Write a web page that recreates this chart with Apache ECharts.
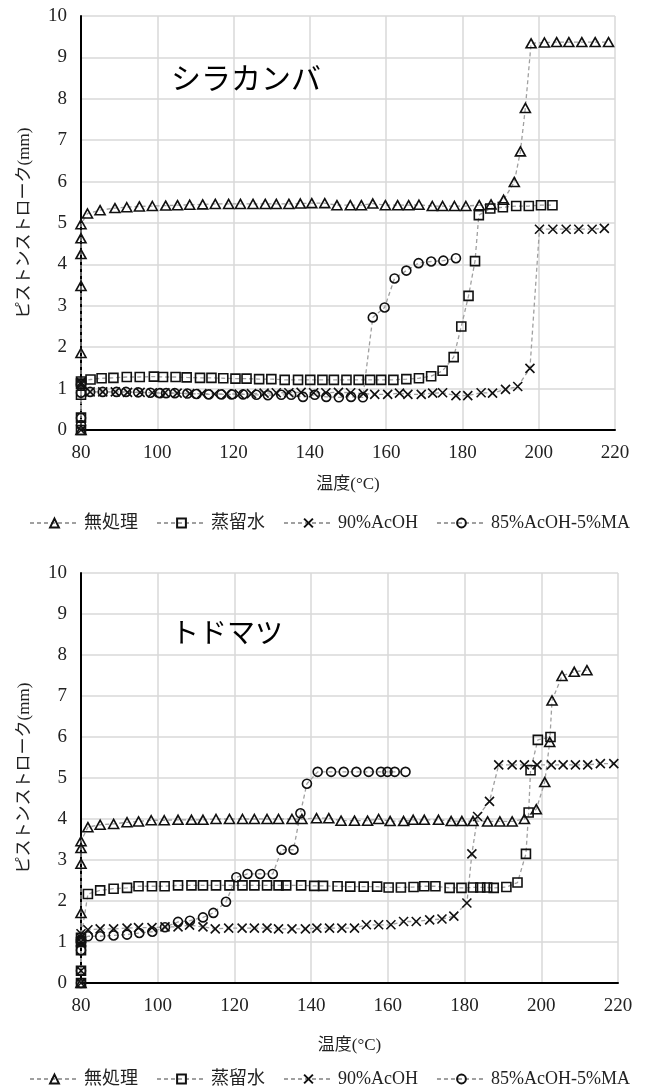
<!DOCTYPE html>
<html>
<head>
<meta charset="utf-8">
<script src="https://cdn.jsdelivr.net/npm/echarts@6/dist/echarts.min.js"></script>
<style>
  body { margin: 0; background: #fff; }
  #chart { width: 663px; height: 1086px; }
</style>
</head>
<body>
<div id="chart"></div>
<script type="text/javascript">
    var names = ['無処理', '蒸留水', '90%AcOH', '85%AcOH-5%MA'];
    var xTicks = [80, 100, 120, 140, 160, 180, 200, 220];

    // シラカンバ (top)
    var birchUntreated = [[80,0],[80,1.86],[80,3.48],[80,4.25],[80,4.63],[80,4.97],[81.7,5.23],[85,5.31],[88.9,5.36],[92,5.38],[95.3,5.4],[98.7,5.41],[102.2,5.42],[105.3,5.43],[108.5,5.44],[111.9,5.45],[115.2,5.46],[118.7,5.46],[121.8,5.46],[125.1,5.46],[128.3,5.46],[131.2,5.46],[134.5,5.46],[137.5,5.47],[140.5,5.48],[143.9,5.48],[147.1,5.43],[150.6,5.43],[153.5,5.43],[156.5,5.47],[159.8,5.43],[163,5.43],[165.9,5.43],[168.6,5.44],[172.1,5.41],[174.8,5.41],[177.9,5.41],[180.9,5.41],[184.4,5.43],[187.5,5.45],[190.8,5.56],[193.6,5.99],[195.2,6.73],[196.5,7.78],[198,9.34],[201.5,9.36],[204.7,9.37],[207.9,9.37],[211.3,9.37],[214.8,9.37],[218.3,9.37]];
    var birchWater = [[80,0],[80,0.3],[80,0.85],[80,1.12],[80,1.17],[82.5,1.22],[85.4,1.25],[88.5,1.26],[92,1.28],[95.4,1.28],[99.1,1.29],[101.5,1.28],[104.8,1.28],[107.7,1.27],[111.2,1.26],[114.2,1.26],[117.3,1.25],[120.5,1.24],[123.4,1.24],[126.7,1.23],[129.9,1.23],[133.4,1.21],[136.9,1.21],[140.1,1.21],[143.3,1.21],[146.3,1.21],[149.6,1.21],[152.8,1.21],[155.8,1.21],[158.7,1.21],[161.9,1.21],[165.3,1.23],[168.6,1.25],[171.8,1.3],[174.8,1.43],[177.7,1.76],[179.7,2.5],[181.6,3.24],[183.3,4.08],[184.3,5.19],[187.3,5.35],[190.6,5.38],[194.1,5.41],[197.4,5.41],[200.6,5.43],[203.6,5.43]];
    var birchAcOH = [[80,0],[80,1.1],[80,1.15],[82.4,0.92],[85.7,0.92],[89,0.92],[92.2,0.91],[95.5,0.91],[98.7,0.9],[102,0.9],[105.2,0.89],[108.5,0.88],[111.7,0.88],[115,0.87],[118.2,0.87],[121.5,0.87],[124.7,0.88],[128,0.89],[131.2,0.9],[134.5,0.9],[137.7,0.91],[141,0.9],[144.2,0.9],[147.5,0.91],[150.7,0.9],[154,0.88],[157,0.86],[160.4,0.86],[163.5,0.89],[165.7,0.86],[169.2,0.86],[172.2,0.89],[174.8,0.9],[178.3,0.83],[181.4,0.83],[184.9,0.9],[187.9,0.89],[191.3,0.98],[194.5,1.05],[197.7,1.49],[200.2,4.85],[203.7,4.85],[207.2,4.85],[210.5,4.85],[214,4.85],[217.2,4.87]];
    var birchAcOHMA = [[80,0.12],[80,0.29],[80,0.9],[80,1.1],[82.4,0.92],[85.7,0.92],[89.3,0.92],[91.8,0.92],[95,0.91],[98.2,0.9],[100.7,0.89],[102.3,0.89],[104.6,0.89],[107.9,0.88],[110.3,0.87],[113.5,0.86],[116.8,0.86],[119.5,0.86],[122.5,0.86],[126,0.85],[129,0.84],[132.5,0.85],[135.1,0.85],[138.2,0.8],[141.3,0.85],[144.3,0.8],[147.6,0.79],[150.8,0.8],[153.9,0.79],[156.5,2.72],[159.6,2.96],[162.2,3.66],[165.3,3.85],[168.5,4.03],[171.8,4.07],[175,4.09],[178.3,4.15]];

    // トドマツ (bottom)
    var firUntreated = [[80,0],[80,1.71],[80,2.91],[80,3.29],[80,3.46],[81.8,3.8],[85,3.86],[88.5,3.88],[92,3.92],[95,3.94],[98.3,3.97],[101.7,3.97],[105.3,3.98],[108.8,3.98],[111.8,3.98],[115.2,4.0],[118.7,4.0],[122.1,4.0],[125.2,4.0],[128.5,4.0],[131.5,4.0],[135,4.0],[137.6,4.0],[141.4,4.02],[144.6,4.02],[147.8,3.96],[151.3,3.96],[154.7,3.96],[157.6,4.0],[160.6,3.95],[164.1,3.95],[166.6,3.98],[169.5,3.98],[173.2,3.98],[176.5,3.95],[179.3,3.95],[182.2,3.95],[186,3.94],[189.2,3.94],[192.4,3.94],[195.6,4.0],[198.7,4.24],[200.9,4.9],[202.2,5.88],[202.8,6.89],[205.4,7.49],[208.6,7.59],[211.9,7.63]];
    var firWater = [[80,0],[80,0.3],[80,0.8],[80,1.0],[80,1.1],[81.8,2.17],[85,2.26],[88.5,2.3],[92,2.32],[95,2.36],[98.5,2.36],[101.8,2.36],[105.3,2.38],[108.8,2.38],[111.8,2.38],[115.2,2.38],[118.7,2.38],[122.1,2.38],[125.2,2.38],[128.5,2.38],[131.5,2.38],[133.5,2.38],[137.4,2.38],[140.8,2.37],[143.1,2.37],[146.9,2.36],[150.2,2.35],[153.7,2.35],[157.2,2.35],[160.2,2.33],[163.4,2.33],[166.7,2.34],[169.5,2.36],[172.4,2.36],[176.1,2.32],[179.2,2.32],[182.2,2.33],[184.1,2.33],[185.9,2.33],[187.6,2.32],[190.9,2.34],[193.8,2.45],[196,3.15],[196.7,4.16],[197.2,5.19],[199.1,5.93],[202.4,6.0]];
    var firAcOH = [[80,0],[80,0.3],[80,1.0],[80,1.1],[80,1.2],[81.8,1.3],[85,1.32],[88.5,1.32],[92,1.34],[95,1.35],[98.5,1.35],[101.9,1.37],[105.3,1.37],[108.3,1.41],[111.8,1.37],[115,1.32],[118.5,1.34],[122,1.34],[125.2,1.34],[128.5,1.34],[131.5,1.32],[135,1.32],[138.5,1.32],[141.5,1.34],[144.8,1.34],[148,1.34],[151.3,1.34],[154.4,1.42],[157.6,1.42],[160.8,1.42],[164.1,1.5],[167.4,1.5],[170.9,1.54],[174.1,1.56],[177.2,1.63],[180.6,1.95],[181.9,3.15],[183.4,4.06],[186.5,4.43],[188.9,5.32],[192.4,5.32],[195.6,5.32],[198.9,5.32],[202.6,5.32],[205.7,5.32],[208.9,5.32],[212.1,5.32],[215.4,5.35],[218.9,5.35]];
    var firAcOHMA = [[80,0],[80,0.3],[80,0.8],[80,1.0],[80,1.05],[81.8,1.14],[85,1.14],[88.5,1.16],[92,1.18],[95.2,1.22],[98.6,1.25],[101.9,1.36],[105.3,1.49],[108.4,1.52],[111.8,1.6],[114.5,1.71],[117.8,1.98],[120.5,2.58],[123.4,2.66],[126.7,2.66],[130,2.66],[132.3,3.25],[135.4,3.25],[137.2,4.14],[138.9,4.86],[141.7,5.15],[145.2,5.15],[148.5,5.15],[151.8,5.15],[155,5.15],[158.2,5.15],[159.9,5.15],[161.8,5.15],[164.6,5.15]];

    var FONT = '"Liberation Serif", "Noto Sans CJK JP", serif';
    var symbols = ['triangle', 'rect', 'path://M0,0L10,10M10,0L0,10', 'circle'];
    var sizes = [[10, 9], 9, 9, 9];

    var makeSeries = function(name, idx, grid, data) {
        return {
            name: name,
            type: 'line',
            xAxisIndex: grid,
            yAxisIndex: grid,
            data: data,
            symbol: symbols[idx],
            symbolSize: sizes[idx],
            showAllSymbol: true,
            clip: false,
            animation: false,
            lineStyle: {color: '#a0a0a0', width: 1.3, type: [4, 3]},
            itemStyle: {color: 'rgba(0,0,0,0)', borderColor: '#111', borderWidth: 1.6}
        };
    };

    var xAxis = function(grid, gap) {
        return {
            type: 'value', gridIndex: grid, min: 80, max: 220, interval: 20,
            name: '温度(°C)', nameLocation: 'middle', nameGap: gap,
            nameTextStyle: {fontFamily: FONT, fontSize: 17, color: '#222'},
            axisLine: {onZero: false, lineStyle: {color: '#000', width: 2}},
            axisTick: {show: false},
            axisLabel: {fontFamily: FONT, fontSize: 19, color: '#222', margin: 14},
            splitLine: {lineStyle: {color: '#d9d9d9', width: 1.5}}
        };
    };
    var yAxis = function(grid) {
        return {
            type: 'value', gridIndex: grid, min: 0, max: 10, interval: 1,
            name: 'ピストンストローク(mm)', nameLocation: 'middle', nameGap: 48, nameRotate: 90,
            nameTextStyle: {fontFamily: FONT, fontSize: 17, color: '#222'},
            axisLine: {show: true, lineStyle: {color: '#000', width: 2}},
            axisTick: {show: false},
            axisLabel: {fontFamily: FONT, fontSize: 19, color: '#222', margin: 14},
            splitLine: {lineStyle: {color: '#d9d9d9', width: 1.5}}
        };
    };
    var legend = function(top) {
        return {
            data: names, left: 24, top: top, itemWidth: 49, itemHeight: 11, itemGap: 18,
            textStyle: {fontFamily: FONT, fontSize: 18, color: '#222'},
            selectedMode: false
        };
    };

    var series = [];
    var topData = [birchUntreated, birchWater, birchAcOH, birchAcOHMA];
    var botData = [firUntreated, firWater, firAcOH, firAcOHMA];
    for (var i = 0; i < 4; i++) {
        series.push(makeSeries(names[i], i, 0, topData[i]));
        series.push(makeSeries(names[i], i, 1, botData[i]));
    }

    var chart = echarts.init(document.getElementById('chart'));
    chart.setOption({
        backgroundColor: '#fff',
        animation: false,
        title: [
            {text: 'シラカンバ', left: 171, top: 63, padding: 0,
             textStyle: {fontFamily: '"Noto Sans CJK JP"', fontSize: 30, fontWeight: 'normal', color: '#000'}},
            {text: 'トドマツ', left: 171, top: 618, padding: 0,
             textStyle: {fontFamily: '"Noto Sans CJK JP"', fontSize: 28, fontWeight: 'normal', color: '#000'}}
        ],
        grid: [
            {left: 81, top: 16, width: 534, height: 414},
            {left: 81, top: 573, width: 537, height: 410}
        ],
        xAxis: [xAxis(0, 46), xAxis(1, 54)],
        yAxis: [yAxis(0), yAxis(1)],
        legend: [legend(509), legend(1065)],
        series: series
    });
</script>
</body>
</html>
